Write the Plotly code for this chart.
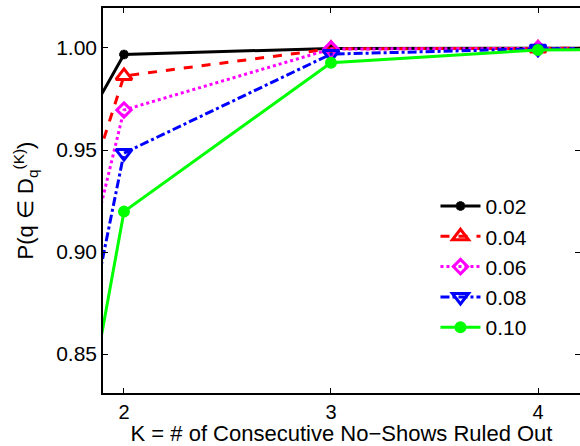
import plotly.graph_objects as go

K = [1, 2, 3, 4, 5]
p02 = [0.817, 0.9968, 0.9998, 0.9999, 1.0]
p04 = [0.670, 0.9863, 0.9996, 0.9998, 1.0]
p06 = [0.549, 0.9696, 0.9995, 0.9997, 1.0]
p08 = [0.447, 0.9485, 0.9970, 0.9996, 1.0]
p10 = [0.362, 0.9198, 0.9928, 0.9990, 0.9998]
names = ["0.02", "0.04", "0.06", "0.08", "0.10"]
x_ticks = [2, 3, 4]
y_ticks = [0.85, 0.90, 0.95, 1.00]

series = [p02, p04, p06, p08, p10]
colors = ["#000000", "#ff0000", "#ff00ff", "#0000ff", "#00ff00"]
dashes = ["solid", "dash", "dot", "dashdot", "solid"]
symbols = ["asterisk-open", "triangle-up-open", "diamond-open", "triangle-down-open", "circle"]
msizes = [8, 14, 11, 14, 9]

fig = go.Figure()
for vals, name, c, d, s, ms in zip(series, names, colors, dashes, symbols, msizes):
    fig.add_trace(go.Scatter(
        x=K, y=vals, name=name, mode="lines+markers",
        line=dict(color=c, width=3, dash=d),
        marker=dict(symbol=s, size=ms, color=c, line=dict(color=c, width=3)),
    ))

# right-side inside ticks without a border line
fig.add_trace(go.Scatter(x=[], y=[], yaxis="y2", showlegend=False, hoverinfo="skip"))

fam = "Liberation Sans, Arial, sans-serif"
fig.update_layout(
    width=580, height=446,
    margin=dict(l=103, r=0, t=8, b=53),
    paper_bgcolor="white", plot_bgcolor="white",
    font=dict(family=fam, size=20, color="#000000"),
    showlegend=True,
    legend=dict(x=0.697, y=0.538, xanchor="left", yanchor="top",
                bgcolor="rgba(0,0,0,0)", borderwidth=0,
                font=dict(family=fam, size=21, color="#000000"),
                tracegroupgap=0, itemwidth=40),
    xaxis=dict(range=[1.8986, 4.2029], tickvals=x_ticks, ticktext=[str(v) for v in x_ticks],
               tickfont=dict(family=fam, size=20, color="#000000"),
               ticks="inside", ticklen=5, tickcolor="#000000", tickwidth=1,
               showline=True, linecolor="#000000", linewidth=1.5, mirror="ticks",
               showgrid=False, zeroline=False,
               title=dict(text="K = # of Consecutive No\u2212Shows Ruled Out", standoff=5,
                          font=dict(family=fam, size=22, color="#000000"))),
    yaxis=dict(range=[0.8309, 1.0196], tickvals=y_ticks, tickformat=".2f",
               tickfont=dict(family=fam, size=21, color="#000000"),
               ticks="inside", ticklen=5, tickcolor="#000000", tickwidth=1,
               showline=True, linecolor="#000000", linewidth=1.5, mirror=False,
               showgrid=False, zeroline=False,
               title=dict(text="P(q \u2208 D<sub>q</sub><sup>(K)</sup>)", standoff=16,
                          font=dict(family=fam, size=22, color="#000000"))),
    yaxis2=dict(range=[0.8309, 1.0196], overlaying="y", side="right", tickvals=y_ticks,
                ticks="inside", ticklen=5, tickcolor="#000000", tickwidth=1,
                showticklabels=False, showline=False, showgrid=False, zeroline=False),
)

fig.write_html("out.html", config={"displayModeBar": False},
               post_script="document.body.style.margin='0';document.body.style.padding='0';")
